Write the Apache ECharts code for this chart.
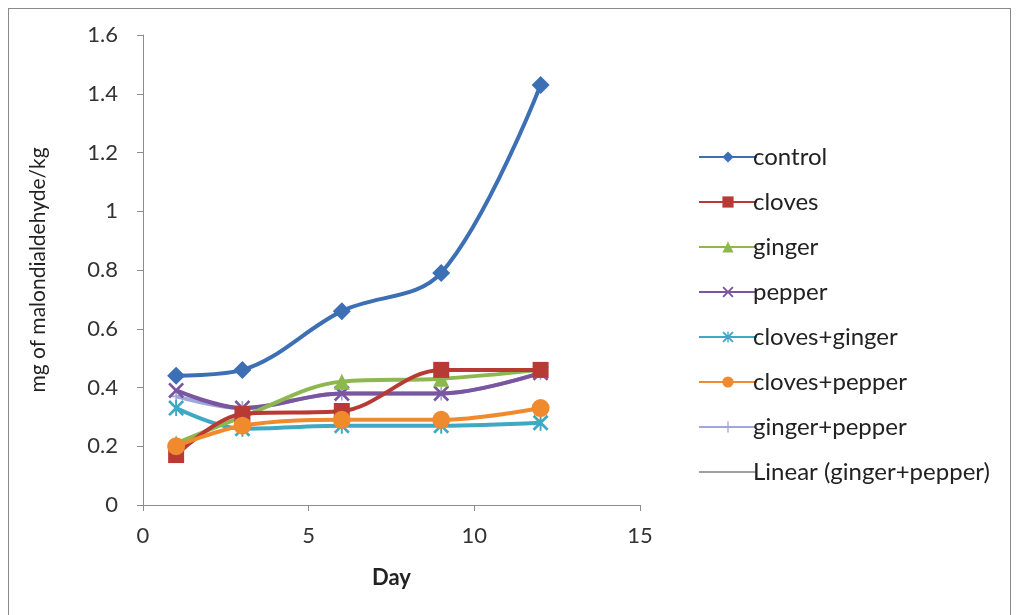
<!DOCTYPE html>
<html><head><meta charset="utf-8">
<script src="https://cdn.jsdelivr.net/npm/echarts@6/dist/echarts.min.js"></script>
<style>
html,body{margin:0;padding:0;background:#fff;}
#frame{position:absolute;left:8px;top:8px;width:1003px;height:620px;border:1px solid #8a8a8a;box-sizing:border-box;}
#chart{position:absolute;left:0;top:0;width:1018px;height:615px;}
</style></head>
<body><div id="frame"></div><div id="chart"></div>
<script>
const days = [1, 3, 6, 9, 12];
const control = [0.44, 0.46, 0.66, 0.79, 1.43];
const cloves = [0.17, 0.31, 0.32, 0.46, 0.46];
const ginger = [0.21, 0.30, 0.42, 0.43, 0.46];
const pepper = [0.39, 0.33, 0.38, 0.38, 0.45];
const clovesGinger = [0.33, 0.26, 0.27, 0.27, 0.28];
const clovesPepper = [0.20, 0.27, 0.29, 0.29, 0.33];
const gingerPepper = [0.37, 0.33, 0.38, 0.38, 0.45];
const xTicks = [0, 5, 10, 15];
const yTicks = [0, 0.2, 0.4, 0.6, 0.8, 1, 1.2, 1.4, 1.6];

const X_PATH = 'path://M0,1.2L1.2,0L5,3.8L8.8,0L10,1.2L6.2,5L10,8.8L8.8,10L5,6.2L1.2,10L0,8.8L3.8,5Z';
const AST_PATH = 'path://M0,1.2L1.2,0L5,3.8L8.8,0L10,1.2L6.2,5L10,8.8L8.8,10L5,6.2L1.2,10L0,8.8L3.8,5Z M4.4,0L5.6,0L5.6,10L4.4,10Z';
const PLUS_PATH = 'path://M4.4,0L5.6,0L5.6,10L4.4,10Z M0,4.4L10,4.4L10,5.6L0,5.6Z';

function pairs(v){ return days.map((d,i)=>[d, v[i]]); }
function mk(name, vals, color, symbol, size, z){
  return {
    name, type:'line', data: pairs(vals), smooth:0.35, z: z,
    symbol, symbolSize:size,
    lineStyle:{color, width:4},
    itemStyle:{color},
    emphasis:{disabled:true}
  };
}
const chart = echarts.init(document.getElementById('chart'));
chart.setOption({
  animation:false,
  textStyle:{fontFamily:'Lato'},
  grid:{left:143, right:378, top:35, bottom:110, containLabel:false},
  xAxis:{type:'value', min:0, max:15, interval:5,
    name:'Day', nameLocation:'middle', nameGap:62,
    nameTextStyle:{fontSize:22, fontWeight:'bold', color:'#222', fontFamily:'Lato'},
    axisLine:{show:true, lineStyle:{color:'#8c8c8c', width:1}},
    axisTick:{show:true, length:6, lineStyle:{color:'#8c8c8c'}},
    axisLabel:{fontSize:22, color:'#333', margin:20, formatter:v=>xTicks.includes(v)?String(v):''},
    splitLine:{show:false}},
  yAxis:{type:'value', min:0, max:1.6, interval:0.2,
    name:'mg of malondialdehyde/kg', nameLocation:'middle', nameGap:94, nameRotate:90,
    nameTextStyle:{fontSize:21, color:'#222', fontFamily:'Lato'},
    axisLine:{show:true, lineStyle:{color:'#8c8c8c', width:1}},
    axisTick:{show:true, length:6, lineStyle:{color:'#8c8c8c'}},
    axisLabel:{fontSize:22, color:'#333', margin:25, formatter:v=>{const t=yTicks.find(x=>Math.abs(x-v)<1e-9); return t===undefined?'':String(t);}},
    splitLine:{show:false}},
  legend:{orient:'vertical', left:693, top:140, itemWidth:58, itemHeight:14, itemGap:21,
    textStyle:{fontSize:24, lineHeight:24, color:'#222', fontFamily:'Lato', padding:[0,0,0,-9]},
    data:['control','cloves','ginger','pepper','cloves+ginger','cloves+pepper','ginger+pepper','Linear (ginger+pepper)']},
  series:[
    mk('ginger+pepper', gingerPepper, '#9fa8d8', PLUS_PATH, 14, 1),
    mk('cloves+pepper', clovesPepper, '#F08A2E', 'circle', 18, 3),
    mk('cloves+ginger', clovesGinger, '#3FA9C4', AST_PATH, 16, 2),
    mk('pepper', pepper, '#7B56A0', X_PATH, 16, 2),
    mk('ginger', ginger, '#8DB850', 'triangle', 16, 2),
    mk('cloves', cloves, '#B83A34', 'rect', 16, 2),
    mk('control', control, '#3C6FB4', 'diamond', 18, 4),
    {name:'Linear (ginger+pepper)', type:'line', data:[], symbol:'none',
     lineStyle:{color:'#a0a0a0', width:3}, itemStyle:{color:'rgba(0,0,0,0)'}}
  ]
});
</script></body></html>
